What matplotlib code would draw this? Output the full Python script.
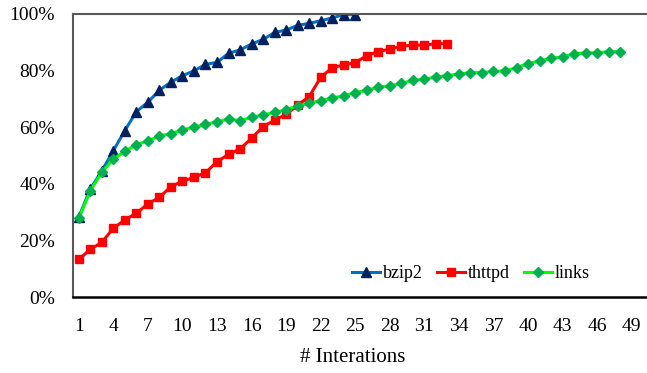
import matplotlib
matplotlib.use("Agg")
import matplotlib.pyplot as plt
from matplotlib.ticker import FuncFormatter

plt.rcParams['font.family'] = ['Liberation Serif', 'DejaVu Serif']

bzip2 = [28.2, 38.2, 44.5, 51.7, 58.8, 65.5, 68.8, 73.1, 75.9, 78.2, 79.9, 82.2, 82.9,
         86.1, 87.3, 89.4, 91.0, 93.5, 94.3, 96.0, 96.7, 97.6, 98.6, 99.8, 99.8]
thttpd = [13.3, 16.8, 19.3, 24.3, 27.2, 29.6, 32.9, 35.2, 39.0, 40.9, 42.3, 43.9, 47.8,
          50.4, 52.3, 56.1, 60.2, 62.5, 64.5, 67.8, 70.8, 77.6, 81.0, 82.0, 82.8, 85.3,
          86.7, 87.6, 88.6, 89.0, 89.0, 89.5, 89.5]
links = [27.8, 37.5, 44.1, 48.7, 51.5, 53.8, 55.2, 56.9, 57.7, 59.0, 60.1, 61.0, 61.9,
         62.9, 62.3, 63.5, 64.3, 65.3, 66.1, 67.6, 68.4, 69.4, 70.3, 71.1, 72.2, 73.1,
         74.1, 74.6, 75.5, 76.6, 76.9, 77.8, 78.2, 78.8, 79.3, 79.3, 79.7, 79.9, 81.0,
         82.5, 83.4, 84.3, 84.9, 85.9, 86.3, 86.3, 86.7, 86.7]
x_ticks = list(range(1, 50, 3))
y_ticks = [0, 20, 40, 60, 80, 100]

W, H = 647, 373
fig = plt.figure(figsize=(W / 100, H / 100), dpi=100)
ax = fig.add_axes([73 / W, 1 - 297 / H, (649 - 73) / W, (297 - 14) / H])

ax.plot(range(1, len(bzip2) + 1), bzip2, color='#0070C0', lw=2.2, marker='^',
        ms=7, mfc='#002060', mec='#002060', label='bzip2')
ax.plot(range(1, len(thttpd) + 1), thttpd, color='#FF0000', lw=2.2, marker='s',
        ms=6, mfc='#FF0000', mec='#FF0000', label='thttpd')
ax.plot(range(1, len(links) + 1), links, color='#00FF00', lw=2.2, marker='D',
        ms=4.8, mfc='#00B050', mec='#00B050', label='links')

ax.set_xlim(0.5, 50.5)
ax.set_ylim(0, 100)
ax.set_xticks(x_ticks)
ax.set_yticks(y_ticks)
ax.yaxis.set_major_formatter(FuncFormatter(lambda v, p: f"{int(v)}%"))
ax.tick_params(axis='both', length=0, labelsize=14)
ax.tick_params(axis='x', pad=15)
ax.tick_params(axis='y', pad=13)

ax.spines['right'].set_visible(False)
ax.spines['left'].set_color('#595959')
ax.spines['left'].set_linewidth(1.5)
ax.spines['top'].set_color('#595959')
ax.spines['top'].set_linewidth(1.5)
ax.spines['bottom'].set_color('#000000')
ax.spines['bottom'].set_linewidth(1.8)

fig.text(353 / W, 1 - 357 / H, '# Interations', ha='center', va='center', fontsize=15)

ax.legend(loc='center left', bbox_to_anchor=(352 / W, 1 - 274 / H),
          bbox_transform=fig.transFigure, ncol=3, frameon=False, fontsize=13,
          borderpad=0, borderaxespad=0, handlelength=1.55, handletextpad=0.15,
          columnspacing=0.8)

fig.savefig('out.png', dpi=100)
